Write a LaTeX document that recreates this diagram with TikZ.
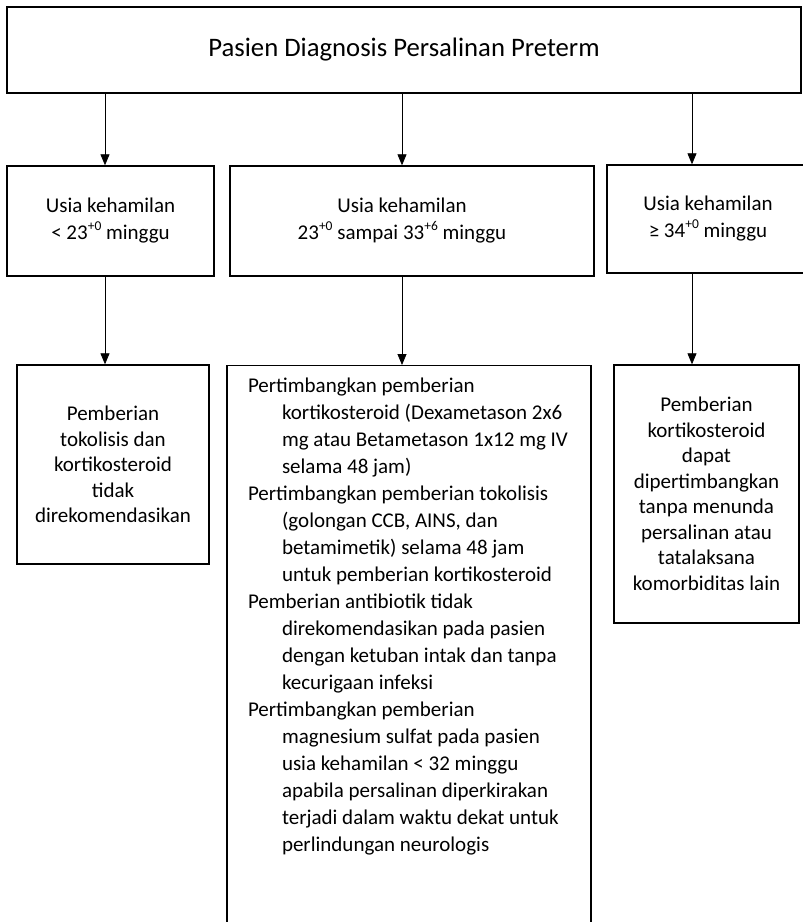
\documentclass[tikz,border=0pt]{standalone}
\usepackage{fontspec}
\setmainfont{Carlito}
\usetikzlibrary{arrows.meta}

\newcommand{\pangkat}[1]{\raisebox{0.45em}{\fontsize{13.5}{13.5}\selectfont #1}}
\newcommand{\sisip}{\hspace*{34pt}}

\begin{document}
\begin{tikzpicture}[
            x=1pt,
            y=-1pt,
            block/.style={
                draw,
                line width=1.4pt,
                align=center,
                inner sep=0pt,
                font=\fontsize{21}{27}\selectfont
            },
            list/.style={
                draw,
                line width=1.4pt,
                align=flush left,
                anchor=north,
                inner xsep=13pt,
                inner ysep=12pt,
                text width=338pt,
                font=\fontsize{21}{27}\selectfont
            },
            arr/.style={
                line width=0.8pt,
                -{Triangle[width=9pt,length=11pt]}
            }
        ]
            \useasboundingbox (0,0) rectangle (803,922);
            \coordinate (xa) at (105,0);
            \coordinate (xb) at (402,0);
            \coordinate (xc) at (692,0);

            \node[block, minimum width=794, minimum height=86,
                font=\fontsize{26.7}{32}\selectfont] (diag) at (404,50)
                {\raisebox{-3pt}{Pasien Diagnosis Persalinan Preterm}};

            \node[block, minimum width=207, minimum height=110] (usiaA) at (110.5,221)
                {Usia kehamilan\\< 23\pangkat{+0} minggu};
            \node[block, minimum width=364, minimum height=110] (usiaB) at (412,221)
                {Usia kehamilan\hspace*{20pt}\\23\pangkat{+0} sampai 33\pangkat{+6} minggu\hspace*{20pt}};
            \node[block, minimum width=202, minimum height=108] (usiaC) at (708,219)
                {Usia kehamilan\\≥ 34\pangkat{+0} minggu};

            \node[block, minimum width=192, minimum height=199,
                font=\fontsize{21}{25.5}\selectfont] (tindakA) at (113,464.5)
                {Pemberian\\tokolisis dan\\kortikosteroid\\tidak\\direkomendasikan};
            \node[list, text depth=533pt] (tindakB) at (409,365)
                {\leftskip=8pt
                Pertimbangkan pemberian\\
                \sisip kortikosteroid (Dexametason 2x6\\
                \sisip mg atau Betametason 1x12 mg IV\\
                \sisip selama 48 jam)\\
                Pertimbangkan pemberian tokolisis\\
                \sisip (golongan CCB, AINS, dan\\
                \sisip betamimetik) selama 48 jam\\
                \sisip untuk pemberian kortikosteroid\\
                Pemberian antibiotik tidak\\
                \sisip direkomendasikan pada pasien\\
                \sisip dengan ketuban intak dan tanpa\\
                \sisip kecurigaan infeksi\\
                Pertimbangkan pemberian\\
                \sisip magnesium sulfat pada pasien\\
                \sisip usia kehamilan < 32 minggu\\
                \sisip apabila persalinan diperkirakan\\
                \sisip terjadi dalam waktu dekat untuk\\
                \sisip perlindungan neurologis\par};
            \node[block, minimum width=185, minimum height=258,
                font=\fontsize{21}{25.5}\selectfont] (tindakC) at (706.5,494)
                {Pemberian\\kortikosteroid\\dapat\\dipertimbangkan\\tanpa menunda\\persalinan atau\\tatalaksana\\komorbiditas lain};

            \draw[arr] (diag.south -| xa) -- (usiaA.north -| xa);
            \draw[arr] (diag.south -| xb) -- (usiaB.north -| xb);
            \draw[arr] (diag.south -| xc) -- (usiaC.north -| xc);

            \draw[arr] (usiaA.south -| xa) -- (tindakA.north -| xa);
            \draw[arr] (usiaB.south -| xb) -- (tindakB.north -| xb);
            \draw[arr] (usiaC.south -| xc) -- (tindakC.north -| xc);
        \end{tikzpicture}
\end{document}
